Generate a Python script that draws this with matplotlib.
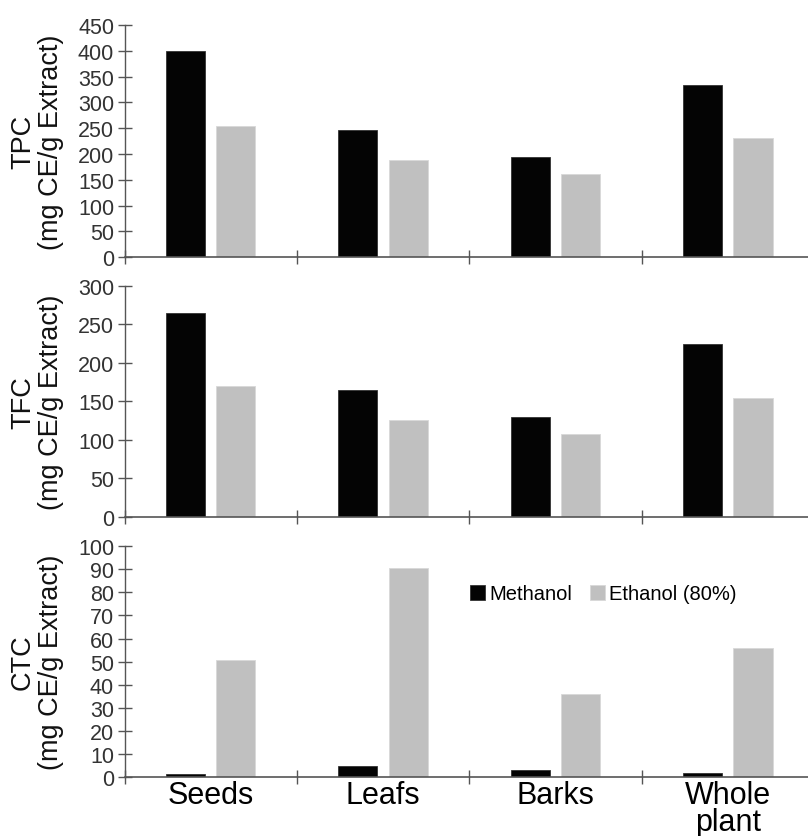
import matplotlib
matplotlib.use("Agg")
import matplotlib.pyplot as plt
import numpy as np
from matplotlib.ticker import FixedLocator

plt.rcParams['font.family'] = ['Liberation Sans', 'DejaVu Sans']

categories = ["Seeds", "Leafs", "Barks", "Whole\nplant"]
solvents = ["Methanol", "Ethanol (80%)"]

tpc_methanol = [400, 247, 195, 334]
tpc_ethanol = [255, 189, 161, 232]

tfc_methanol = [265, 165, 130, 224]
tfc_ethanol = [170, 126, 108, 155]

ctc_methanol = [1.4, 5.0, 3.2, 1.9]
ctc_ethanol = [50.5, 90.6, 36.2, 55.8]

panel_labels = ["TPC\n(mg CE/g Extract)", "TFC\n(mg CE/g Extract)", "CTC\n(mg CE/g Extract)"]
panel_ylims = [(0, 450, 50), (0, 300, 50), (0, 100, 10)]

W, H = 808, 837
fig = plt.figure(figsize=(W / 100, H / 100), dpi=100)

# axes rectangles in pixel units: (top, bottom)
rects = [(26, 258.3), (287, 517.7), (547, 778.3)]
left_px = 124.5

series = [
    (tpc_methanol, tpc_ethanol),
    (tfc_methanol, tfc_ethanol),
    (ctc_methanol, ctc_ethanol),
]

x = np.arange(len(categories))
bar_w = 0.227
offset = 0.146
black = "#040404"
grey = "#c0c0c0"
axis_col = "#555555"

axes = []
for i, ((top, bot), (m_vals, e_vals)) in enumerate(zip(rects, series)):
    ax = fig.add_axes([left_px / W, 1 - bot / H, 1 - left_px / W, (bot - top) / H])
    axes.append(ax)
    ax.bar(x - offset, m_vals, width=bar_w, color=black, edgecolor="#333333",
           linewidth=0.6, label=solvents[0], zorder=2)
    ax.bar(x + offset, e_vals, width=bar_w, color=grey, edgecolor="#d8d8d8",
           linewidth=0.6, label=solvents[1], zorder=2)
    lo, hi, step = panel_ylims[i]
    ax.set_ylim(lo, hi)
    ax.set_yticks(np.arange(lo, hi + step / 2, step))
    ax.set_xlim(-0.5, 3.5 - 6 / 172)
    for s in ("top", "right"):
        ax.spines[s].set_visible(False)
    ax.spines["left"].set_color(axis_col)
    ax.spines["bottom"].set_color(axis_col)
    ax.spines["left"].set_linewidth(1.0)
    ax.spines["bottom"].set_linewidth(1.2)
    ax.tick_params(axis="y", direction="inout", length=10, width=1.0, color=axis_col,
                   labelsize=15.5, labelcolor="#333333", pad=2.5)
    ax.xaxis.set_major_locator(FixedLocator(x))
    ax.xaxis.set_minor_locator(FixedLocator(np.arange(-0.5, 3.5, 1.0)))
    ax.tick_params(axis="x", which="minor", direction="inout", length=10, width=1.0, color=axis_col)
    ax.tick_params(axis="x", which="major", length=0, pad=2)
    if i < 2:
        ax.set_xticklabels([])
    else:
        ax.set_xticklabels(categories, fontsize=22, color="black", linespacing=0.88)
    cy = 1 - (top + bot) / 2 / H
    fig.text(37 / W, cy, panel_labels[i], rotation=90, ha="center", va="center",
             ma="center", fontsize=19.5, color="#111111", linespacing=1.1)

axes[2].legend(loc="center left", bbox_to_anchor=(470 / W, 1 - 595 / H),
               bbox_transform=fig.transFigure, ncol=2, frameon=False,
               fontsize=14.5, handlelength=0.75, handleheight=0.75,
               handletextpad=0.2, columnspacing=0.9, borderpad=0, borderaxespad=0)

fig.savefig("out.png", dpi=100)
